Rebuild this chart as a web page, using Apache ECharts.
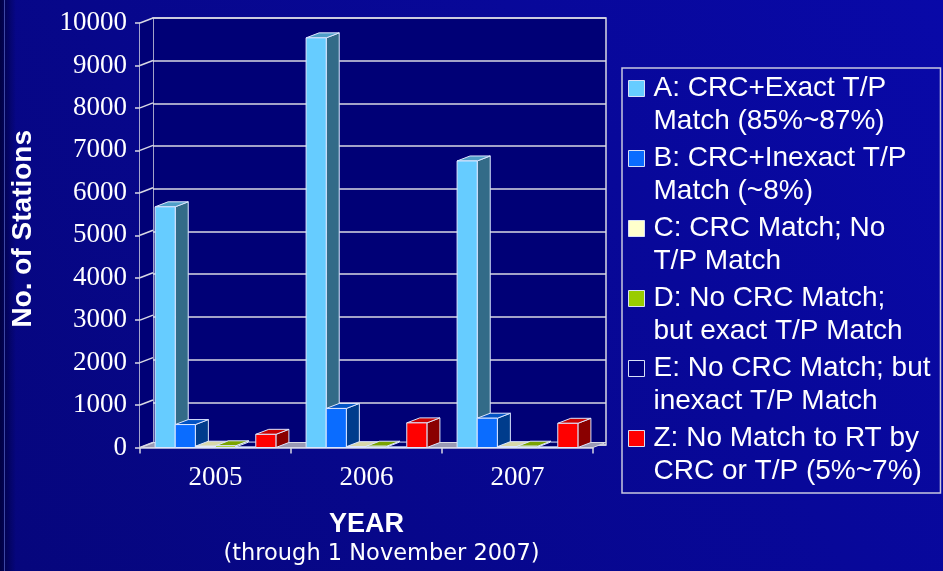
<!DOCTYPE html>
<html>
<head>
<meta charset="utf-8">
<script src="https://cdn.jsdelivr.net/npm/echarts@6/dist/echarts.min.js"></script>
<style>
  html, body { margin: 0; padding: 0; background: #07078e; }
  #chart { width: 943px; height: 571px; }
</style>
</head>
<body>
<div id="chart"></div>
<script>
// Station match counts per year, by match category
const years = ['2005', '2006', '2007'];
const seriesNames = [
  'A: CRC+Exact T/P\nMatch (85%~87%)',
  'B: CRC+Inexact T/P\nMatch (~8%)',
  'C: CRC Match; No\nT/P Match',
  'D: No CRC Match;\nbut exact T/P Match',
  'E: No CRC Match; but\ninexact T/P Match',
  'Z: No Match to RT by\nCRC or T/P (5%~7%)'
];
const valuesA = [5670, 9650, 6750];
const valuesB = [540, 920, 690];
const valuesC = [30, 20, 20];
const valuesD = [40, 30, 30];
const valuesE = [10, 10, 10];
const valuesZ = [310, 580, 570];
const yTicks = [0, 1000, 2000, 3000, 4000, 5000, 6000, 7000, 8000, 9000, 10000];

const allValues = [valuesA, valuesB, valuesC, valuesD, valuesE, valuesZ];

// Face colours of each 3D column: front, right side, top
const faces = [
  { front: '#66ccff', side: '#336b88', top: '#4f9fc8' },
  { front: '#0a6cff', side: '#003c8c', top: '#0052c4' },
  { front: '#ffffcc', side: '#9a9a70', top: '#d8d8a8' },
  { front: '#99cc00', side: '#4d6600', top: '#7aa300' },
  { front: '#000080', side: '#000060', top: '#000070' },
  { front: '#ff0000', side: '#8a0000', top: '#cc0000' }
];

const DX = 13, DY = -5;           // depth offset of the 3D box
const EDGE = '#dde6ff';
const WALL = '#000076';
const LINE = '#d8d8e4';
const GROUP = 0.8;                // share of the category band used by a group

function barRenderer(si) {
  const f = faces[si];
  return function (params, api) {
    const cat = api.value(0);
    const v = api.value(1);
    const top = api.coord([cat, v]);
    const base = api.coord([cat, 0]);
    const band = api.size([1, 0])[0];
    const gw = band * GROUP;
    const w = gw / faces.length;
    const x0 = top[0] - gw / 2 + si * w;
    const x1 = x0 + w;
    const yt = top[1], yb = base[1];
    return {
      type: 'group',
      children: [
        { type: 'polygon', shape: { points: [[x1, yt], [x1 + DX, yt + DY], [x1 + DX, yb + DY], [x1, yb]] },
          style: { fill: f.side, stroke: EDGE, lineWidth: 1 } },
        { type: 'polygon', shape: { points: [[x0, yt], [x0 + DX, yt + DY], [x1 + DX, yt + DY], [x1, yt]] },
          style: { fill: f.top, stroke: EDGE, lineWidth: 1 } },
        { type: 'rect', shape: { x: x0, y: yt, width: w, height: yb - yt },
          style: { fill: f.front, stroke: EDGE, lineWidth: 1 } }
      ]
    };
  };
}

const barSeries = seriesNames.map((name, si) => ({
  name: name,
  type: 'custom',
  xAxisIndex: 1,
  yAxisIndex: 1,
  z: 5,
  clip: false,
  itemStyle: { color: faces[si].front },
  encode: { x: 0, y: 1 },
  data: years.map((y, i) => [i, allValues[si][i]]),
  renderItem: barRenderer(si)
}));

// Left side wall, floor and the diagonal tick connectors to the back wall
const frameSeries = [
  {
    type: 'custom', xAxisIndex: 1, yAxisIndex: 1, z: 1, silent: true, clip: false,
    data: [[0, 0]],
    renderItem: function (params, api) {
      const cs = params.coordSys;
      const xl = cs.x, xr = cs.x + cs.width, yt = cs.y, yb = cs.y + cs.height;
      return {
        type: 'group',
        children: [
          { type: 'polygon', shape: { points: [[xl, yb], [xl, yt], [xl + DX, yt + DY], [xl + DX, yb + DY]] },
            style: { fill: WALL } },
          { type: 'polygon', shape: { points: [[xl, yb], [xl + DX, yb + DY], [xr + DX, yb + DY], [xr, yb]] },
            style: { fill: '#9a9ab4', stroke: LINE, lineWidth: 1 } }
        ]
      };
    }
  },
  {
    type: 'custom', xAxisIndex: 1, yAxisIndex: 1, z: 2, silent: true, clip: false,
    data: yTicks.map(v => [0, v]),
    renderItem: function (params, api) {
      const cs = params.coordSys;
      const y = api.coord([0, api.value(1)])[1];
      return {
        type: 'line',
        shape: { x1: cs.x, y1: y, x2: cs.x + DX, y2: y + DY },
        style: { stroke: LINE, lineWidth: 1.5 }
      };
    }
  }
];

const legendIcon = 'path://M0,0L16,0L16,16L0,16Z M20,49';

const option = {
  backgroundColor: new echarts.graphic.LinearGradient(0, 1, 1, 0, [
    { offset: 0, color: '#06067c' },
    { offset: 1, color: '#0909a8' }
  ]),
  animation: false,
  graphic: [
    { type: 'rect', left: 0, top: 0, shape: { width: 16, height: 571 }, silent: true,
      style: { fill: new echarts.graphic.LinearGradient(0, 0, 1, 0, [
        { offset: 0, color: 'rgba(0,0,60,0.9)' }, { offset: 1, color: 'rgba(0,0,60,0)' }]) } },
    { type: 'rect', left: 4, top: 0, shape: { width: 1, height: 571 }, silent: true,
      style: { fill: 'rgba(110,130,230,0.55)' } }
  ],
  grid: [
    // back wall
    { left: 153, top: 18, width: 453, height: 427, show: true,
      backgroundColor: WALL, borderColor: LINE, borderWidth: 1.5 },
    // front plane carrying the axes
    { left: 140, top: 23, width: 453, height: 427 }
  ],
  legend: {
    orient: 'vertical',
    left: 622,
    top: 68,
    padding: [4, 10, 5, 6],
    itemGap: 4,
    itemWidth: 20,
    itemHeight: 49,
    selectedMode: false,
    borderColor: '#c8c8e0',
    borderWidth: 1.5,
    icon: legendIcon,
    itemStyle: { borderColor: '#d8e0f8', borderWidth: 1 },
    textStyle: { color: '#ffffff', fontFamily: 'Liberation Sans, Arial, sans-serif', fontSize: 28, lineHeight: 33 },
    data: seriesNames.map(n => ({ name: n, icon: legendIcon }))
  },
  xAxis: [
    { type: 'category', gridIndex: 0, data: years, show: false },
    {
      type: 'category', gridIndex: 1, data: years,
      axisLine: { lineStyle: { color: LINE, width: 1.5 } },
      axisTick: { show: true, length: 6, lineStyle: { color: LINE, width: 1.5 } },
      axisLabel: { color: '#ffffff', fontFamily: 'Liberation Serif, Times New Roman, serif', fontSize: 27, margin: 17 },
      name: '{a|YEAR}\n{b|(through 1 November 2007)}',
      nameLocation: 'middle',
      nameGap: 62,
      nameTextStyle: {
        color: '#ffffff',
        rich: {
          a: { color: '#ffffff', fontFamily: 'Liberation Sans, Arial, sans-serif', fontWeight: 'bold', fontSize: 27, lineHeight: 30 },
          b: { color: '#ffffff', fontFamily: 'DejaVu Sans, Verdana, sans-serif', fontSize: 22.5, lineHeight: 30, padding: [0, 0, 0, 30] }
        }
      }
    }
  ],
  yAxis: [
    {
      type: 'value', gridIndex: 0, min: 0, max: 10000, interval: 1000,
      axisLine: { show: false }, axisTick: { show: false }, axisLabel: { show: false },
      splitLine: { show: true, lineStyle: { color: LINE, width: 1.5 } }
    },
    {
      type: 'value', gridIndex: 1, min: 0, max: 10000, interval: 1000,
      axisLine: { show: true, lineStyle: { color: LINE, width: 1.5 } },
      axisTick: { show: true, length: 5, lineStyle: { color: LINE, width: 1.5 } },
      axisLabel: {
        color: '#ffffff', fontFamily: 'Liberation Serif, Times New Roman, serif', fontSize: 27, margin: 13,
        formatter: v => String(v)
      },
      splitLine: { show: false },
      name: 'No. of Stations',
      nameLocation: 'middle',
      nameRotate: 90,
      nameGap: 103,
      nameTextStyle: { color: '#ffffff', fontFamily: 'Liberation Sans, Arial, sans-serif', fontWeight: 'bold', fontSize: 28, padding: [0, 0, 0, 13] }
    }
  ],
  series: frameSeries.concat(barSeries)
};

const chart = echarts.init(document.getElementById('chart'), null, { renderer: 'canvas' });
chart.setOption(option);
</script>
</body>
</html>
